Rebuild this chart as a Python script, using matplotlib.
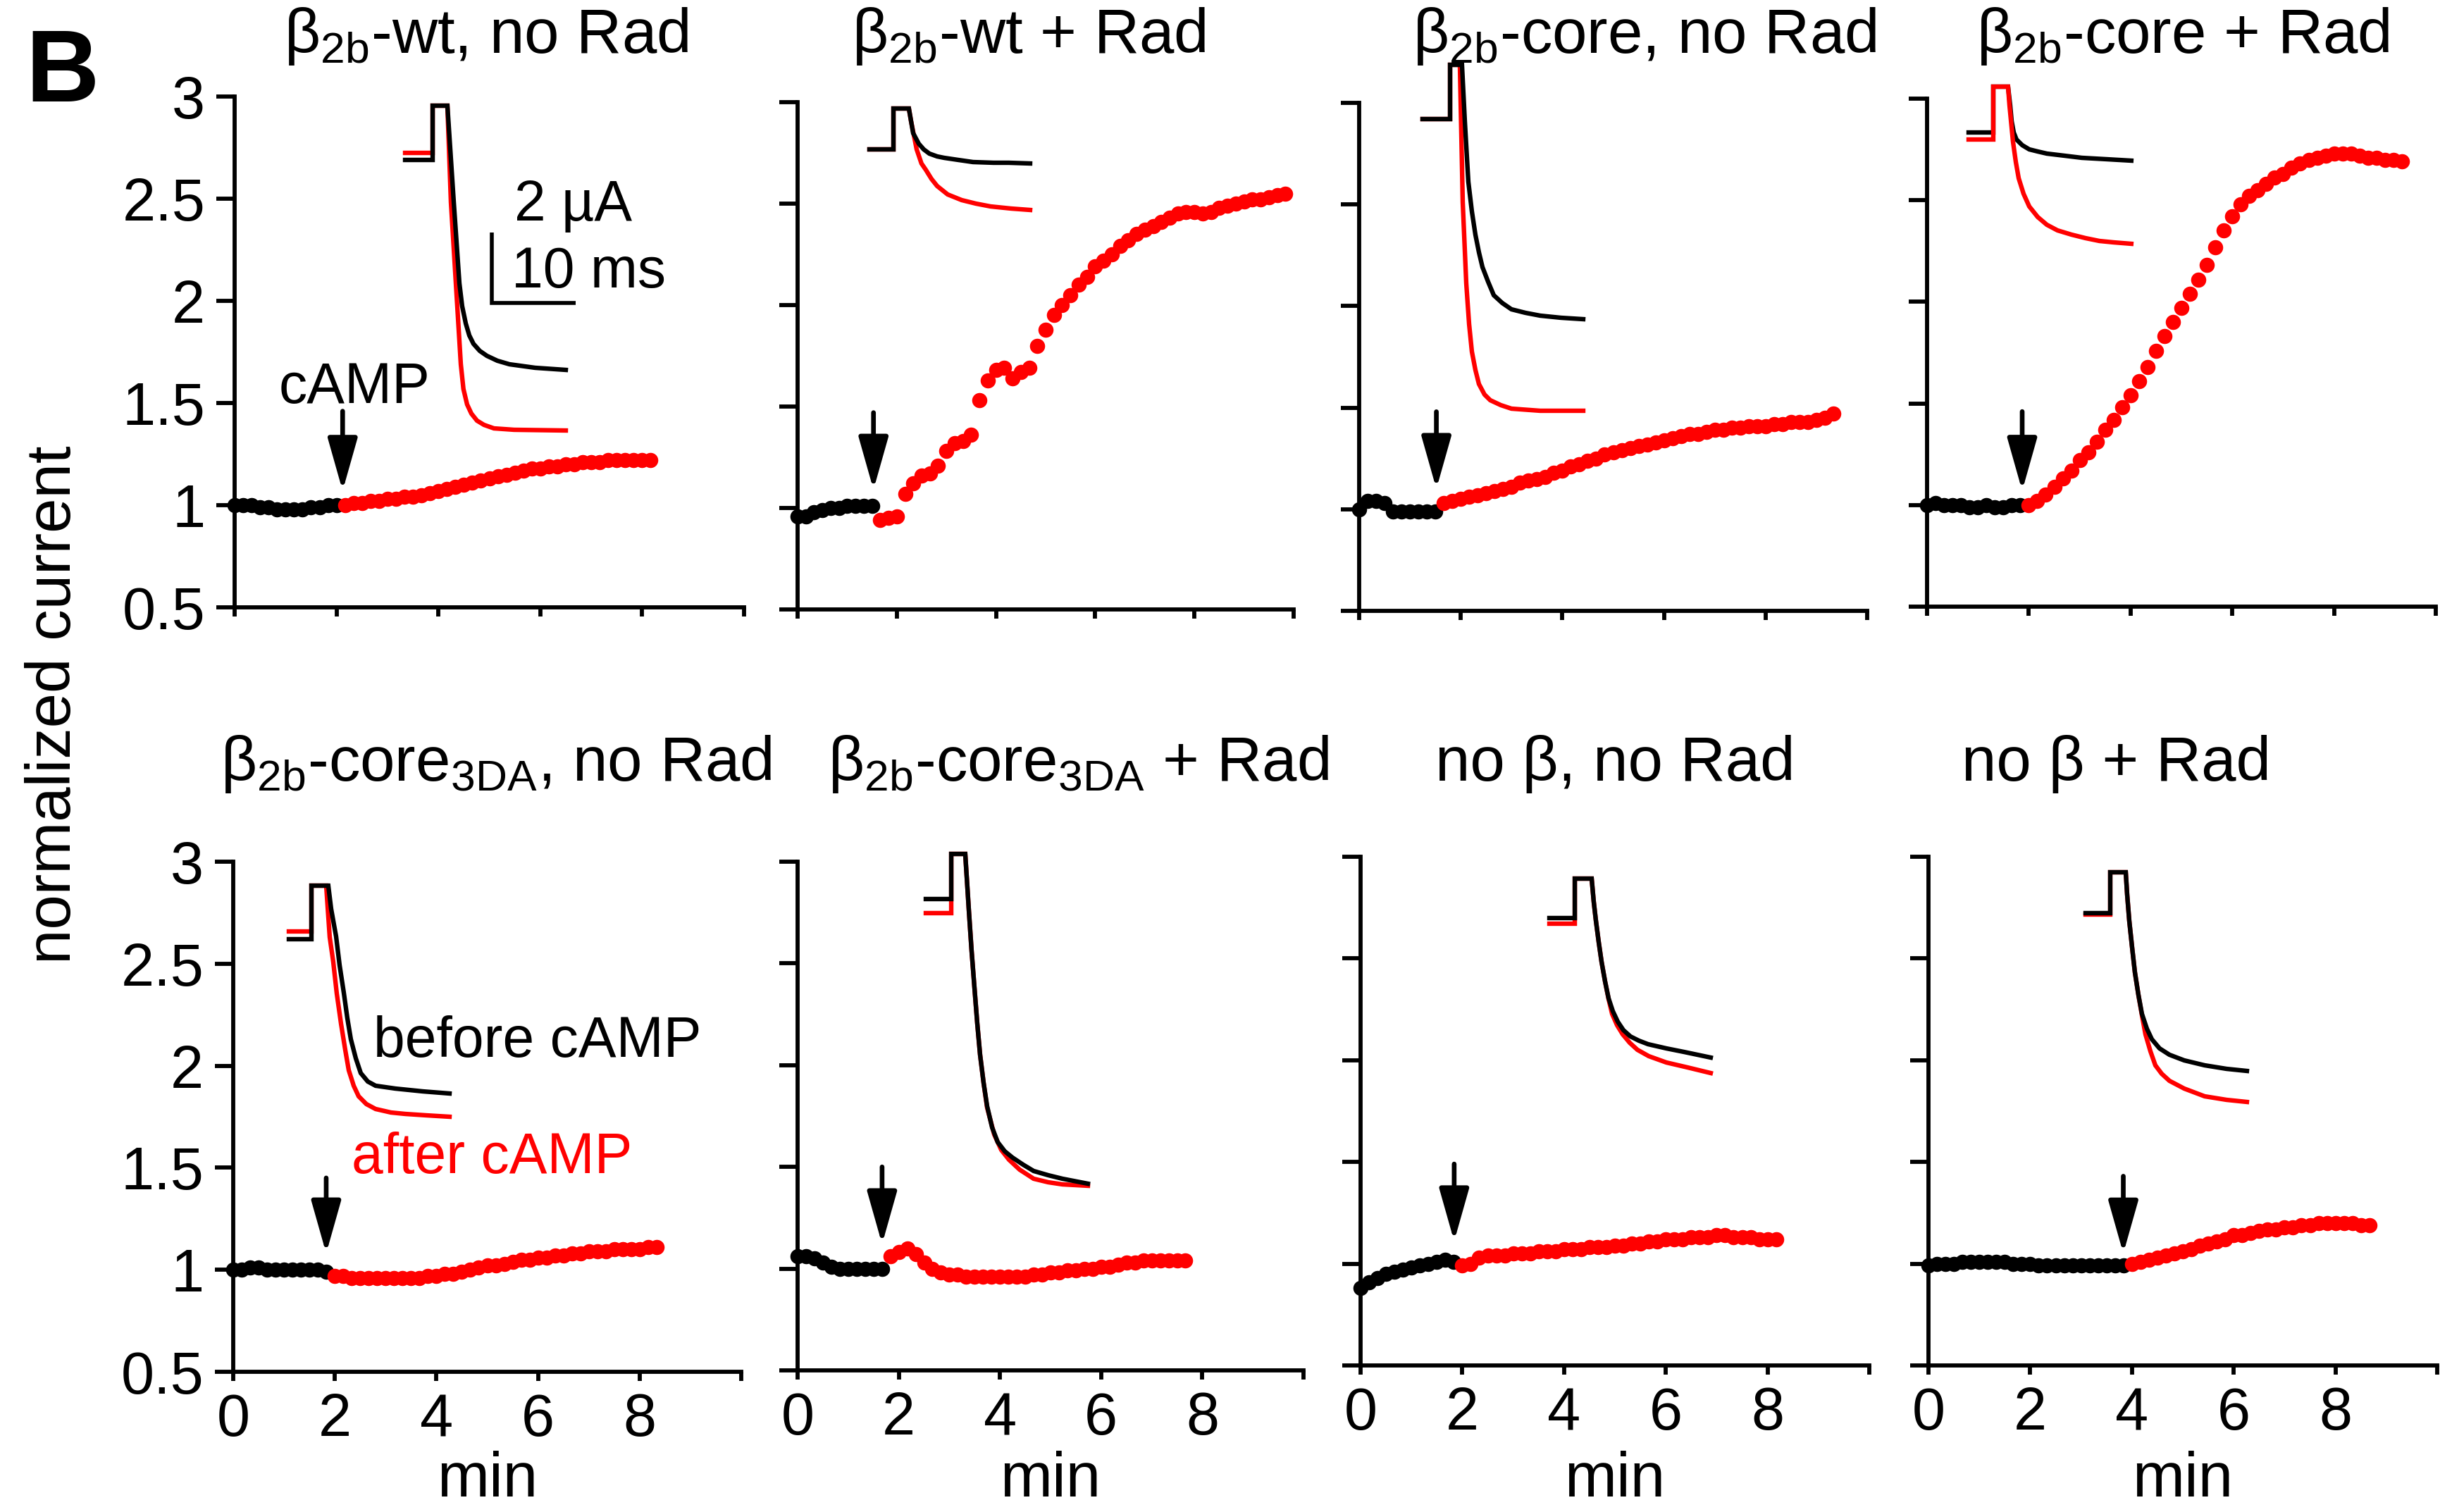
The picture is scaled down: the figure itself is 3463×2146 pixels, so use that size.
import matplotlib
matplotlib.use("Agg")
import matplotlib.pyplot as plt

plt.rcParams['font.family'] = ['Liberation Sans', 'DejaVu Sans']
plt.rcParams['mathtext.fontset'] = 'custom'
plt.rcParams['mathtext.rm'] = 'Liberation Sans'
plt.rcParams['mathtext.it'] = 'Liberation Sans:italic'
plt.rcParams['mathtext.bf'] = 'Liberation Sans:bold'
plt.rcParams['mathtext.sf'] = 'Liberation Sans'

W, H, DPI = 3463, 2146, 100
RED = '#ff0000'
FS_TITLE = 64
FS_TICK = 61
FS_LABEL = 64
FS_ANN = 58

# ---------------- data ----------------
DT_MIN = 1 / 6          # sampling interval (10 s)

titles = [r'β$_{\mathrm{2b}}$-wt, no Rad', r'β$_{\mathrm{2b}}$-wt + Rad',
          r'β$_{\mathrm{2b}}$-core, no Rad', r'β$_{\mathrm{2b}}$-core + Rad',
          r'β$_{\mathrm{2b}}$-core$_{\mathrm{3DA}}$, no Rad',
          r'β$_{\mathrm{2b}}$-core$_{\mathrm{3DA}}$ + Rad',
          'no β, no Rad', 'no β + Rad']

x_ticks = [0, 2, 4, 6, 8, 10]
x_ticklabels = ['0', '2', '4', '6', '8', '']
y_ticks = [0.5, 1, 1.5, 2, 2.5, 3]
y_ticklabels = ['0.5', '1', '1.5', '2', '2.5', '3']

# normalized current before (black) / after (red) cAMP, sampled every 10 s
p1_black = [1.00, 1.00, 1.00, 0.99, 0.99, 0.98, 0.98, 0.98, 0.98, 0.99, 0.99, 1.00, 1.00]
p1_red = [1.00, 1.01, 1.01, 1.02, 1.02, 1.03, 1.03, 1.04, 1.04, 1.05, 1.06, 1.07, 1.08,
          1.09, 1.10, 1.11, 1.12, 1.13, 1.14, 1.15, 1.16, 1.17, 1.18, 1.18, 1.19, 1.19,
          1.20, 1.20, 1.21, 1.21, 1.21, 1.22, 1.22, 1.22, 1.22, 1.22, 1.22]
p2_black = [0.96, 0.96, 0.98, 0.99, 1.00, 1.00, 1.01, 1.01, 1.01, 1.01]
p2_red = [0.94, 0.95, 0.96, 1.07, 1.12, 1.16, 1.17, 1.21, 1.28, 1.32, 1.33, 1.36, 1.53,
          1.63, 1.68, 1.69, 1.64, 1.67, 1.69, 1.80, 1.88, 1.95, 2.00, 2.05, 2.10, 2.14,
          2.19, 2.22, 2.25, 2.29, 2.32, 2.35, 2.37, 2.39, 2.41, 2.43, 2.45, 2.46, 2.46,
          2.45, 2.46, 2.48, 2.49, 2.50, 2.51, 2.52, 2.52, 2.53, 2.54, 2.55]
p3_black = [1.00, 1.04, 1.04, 1.03, 0.99, 0.99, 0.99, 0.99, 0.99, 0.99]
p3_red = [1.03, 1.04, 1.05, 1.06, 1.07, 1.08, 1.09, 1.10, 1.11, 1.13, 1.14, 1.15, 1.16,
          1.18, 1.19, 1.21, 1.22, 1.24, 1.25, 1.27, 1.28, 1.29, 1.30, 1.31, 1.32, 1.33,
          1.34, 1.35, 1.36, 1.37, 1.37, 1.38, 1.39, 1.39, 1.40, 1.40, 1.41, 1.41, 1.41,
          1.42, 1.42, 1.43, 1.43, 1.43, 1.44, 1.45, 1.47]
p4_black = [1.00, 1.01, 1.00, 1.00, 1.00, 0.99, 0.99, 1.00, 0.99, 0.99, 1.00, 1.00]
p4_red = [1.00, 1.02, 1.05, 1.09, 1.13, 1.17, 1.22, 1.26, 1.31, 1.37, 1.42, 1.48, 1.54,
          1.61, 1.68, 1.76, 1.83, 1.90, 1.97, 2.04, 2.11, 2.18, 2.27, 2.35, 2.42, 2.48,
          2.52, 2.55, 2.58, 2.61, 2.63, 2.66, 2.68, 2.70, 2.71, 2.72, 2.73, 2.73, 2.73,
          2.72, 2.71, 2.71, 2.70, 2.70, 2.69]
p5_black = [1.00, 1.00, 1.01, 1.01, 1.00, 1.00, 1.00, 1.00, 1.00, 1.00, 1.00, 0.99]
p5_red = [0.97, 0.97, 0.96, 0.96, 0.96, 0.96, 0.96, 0.96, 0.96, 0.96, 0.96, 0.97, 0.97,
          0.98, 0.98, 0.99, 1.00, 1.01, 1.02, 1.02, 1.03, 1.04, 1.05, 1.05, 1.06, 1.06,
          1.07, 1.07, 1.08, 1.08, 1.09, 1.09, 1.09, 1.10, 1.10, 1.10, 1.10, 1.11, 1.11]
p6_black = [1.06, 1.06, 1.05, 1.03, 1.01, 1.00, 1.00, 1.00, 1.00, 1.00, 1.00]
p6_red = [1.06, 1.08, 1.10, 1.07, 1.03, 1.00, 0.98, 0.97, 0.97, 0.96, 0.96, 0.96, 0.96,
          0.96, 0.96, 0.96, 0.96, 0.97, 0.97, 0.98, 0.98, 0.99, 0.99, 1.00, 1.00, 1.01,
          1.01, 1.02, 1.03, 1.03, 1.04, 1.04, 1.04, 1.04, 1.04, 1.04]
p7_black = [0.88, 0.91, 0.93, 0.95, 0.96, 0.97, 0.98, 0.99, 1.00, 1.01, 1.02, 1.01]
p7_red = [0.99, 1.00, 1.03, 1.04, 1.04, 1.04, 1.05, 1.05, 1.05, 1.06, 1.06, 1.06, 1.07,
          1.07, 1.07, 1.08, 1.08, 1.08, 1.09, 1.09, 1.10, 1.10, 1.11, 1.11, 1.12, 1.12,
          1.12, 1.13, 1.13, 1.13, 1.14, 1.14, 1.13, 1.13, 1.13, 1.12, 1.12, 1.12]
p8_black = [0.99, 1.00, 1.00, 1.00, 1.01, 1.01, 1.01, 1.01, 1.01, 1.01, 1.00, 1.00, 1.00,
            0.99, 0.99, 0.99, 0.99, 0.99, 0.99, 0.99, 0.99, 0.99, 0.99, 0.99]
p8_red = [1.00, 1.01, 1.02, 1.03, 1.04, 1.05, 1.06, 1.07, 1.09, 1.10, 1.11, 1.12, 1.14,
          1.14, 1.15, 1.16, 1.17, 1.17, 1.18, 1.18, 1.19, 1.19, 1.20, 1.20, 1.20, 1.20,
          1.20, 1.19, 1.19]

black_series = [p1_black, p2_black, p3_black, p4_black, p5_black, p6_black, p7_black, p8_black]
red_series = [p1_red, p2_red, p3_red, p4_red, p5_red, p6_red, p7_red, p8_red]

# cAMP application time (min) and arrow span (normalized current)
camp_t = [2.12, 1.53, 1.52, 1.87, 1.83, 1.67, 1.84, 3.83]
arrow_tip = [1.07, 1.09, 1.10, 1.07, 1.08, 1.12, 1.11, 1.05]
arrow_tail = [1.46, 1.47, 1.48, 1.46, 1.45, 1.50, 1.49, 1.43]

# example current traces (time in ms, current in µA relative to holding)
i1_bt = [0, 3.28, 3.28, 5.04, 5.80, 6.47, 6.80, 7.23, 7.65, 8.15, 8.90, 9.75, 11.0, 12.44, 15.5, 19.16]
i1_bi = [0, 0, 1.54, 1.54, -1.20, -3.50, -4.15, -4.64, -4.98, -5.22, -5.42, -5.56, -5.70, -5.80, -5.90, -5.96]
i1_rt = [0, 3.28, 3.28, 5.04, 5.46, 6.05, 6.64, 6.95, 7.39, 7.90, 8.57, 9.40, 10.59, 13.0, 19.16]
i1_ri = [0.2, 0.2, 1.54, 1.54, -1.20, -3.50, -5.80, -6.50, -6.94, -7.20, -7.40, -7.52, -7.62, -7.66, -7.68]

i2_bt = [0, 2.86, 2.86, 4.70, 5.21, 5.88, 6.47, 7.14, 8.07, 8.90, 10.6, 12.35, 14.8, 16.6, 19.16]
i2_bi = [0, 0, 1.16, 1.16, 0.46, 0.16, 0.00, -0.12, -0.20, -0.24, -0.30, -0.36, -0.38, -0.38, -0.40]
i2_rt = [0, 2.86, 2.86, 4.70, 4.96, 5.63, 6.20, 6.72, 7.40, 8.07, 9.33, 11.0, 12.7, 14.45, 16.9, 19.16]
i2_ri = [0, 0, 1.16, 1.16, 0.80, 0.00, -0.40, -0.58, -0.84, -1.04, -1.28, -1.44, -1.54, -1.62, -1.68, -1.72]

i3_bt = [0, 3.28, 3.28, 4.70, 5.04, 5.46, 5.88, 6.30, 6.72, 7.14, 7.82, 8.49, 9.50, 10.6, 12.27, 14.03, 16.5, 19.16]
i3_bi = [0, 0, 1.54, 1.54, -0.06, -1.78, -2.62, -3.28, -3.78, -4.20, -4.62, -5.00, -5.22, -5.40, -5.50, -5.58, -5.64, -5.68]
i3_rt = [0, 3.28, 3.28, 4.45, 4.79, 5.21, 5.55, 5.88, 6.30, 6.72, 7.39, 8.07, 9.33, 10.6, 14.03, 19.16]
i3_ri = [0, 0, 1.54, 1.54, -2.36, -4.66, -5.82, -6.60, -7.12, -7.52, -7.82, -7.98, -8.12, -8.22, -8.28, -8.28]

i4_bt = [0, 2.94, 2.94, 4.70, 4.96, 5.13, 5.38, 5.71, 6.39, 7.23, 8.24, 9.33, 11.43, 13.5, 16.5, 19.4]
i4_bi = [0, 0, 1.30, 1.30, 0.76, 0.32, 0.00, -0.20, -0.36, -0.48, -0.54, -0.60, -0.66, -0.72, -0.76, -0.80]
i4_rt = [0, 2.94, 2.94, 4.70, 4.87, 5.29, 5.63, 5.97, 6.55, 7.23, 8.24, 9.33, 10.6, 12.27, 13.95, 15.6, 17.3, 19.4]
i4_ri = [-0.2, -0.2, 1.30, 1.30, 0.78, -0.26, -0.84, -1.30, -1.74, -2.10, -2.40, -2.62, -2.78, -2.90, -3.00, -3.08, -3.12, -3.16]

i5_bt = [0, 2.69, 2.69, 4.70, 5.04, 5.63, 6.05, 6.55, 6.97, 7.39, 7.98, 8.57, 9.41, 10.34, 12.69, 15.97, 19.16]
i5_bi = [0, 0, 1.52, 1.52, 0.86, 0.08, -0.74, -1.52, -2.24, -2.84, -3.38, -3.80, -4.04, -4.16, -4.24, -4.32, -4.38]
i5_rt = [0, 2.69, 2.69, 4.45, 4.87, 5.29, 5.71, 6.22, 6.72, 7.14, 7.73, 8.32, 9.24, 10.34, 12.18, 13.87, 16.4, 19.16]
i5_ri = [0.22, 0.22, 1.52, 1.52, 0.06, -0.64, -1.54, -2.40, -3.14, -3.72, -4.16, -4.46, -4.68, -4.82, -4.92, -4.96, -5.00, -5.04]

i6_bt = [0, 3.03, 3.03, 4.70, 4.96, 5.13, 5.46, 5.80, 6.13, 6.47, 6.89, 7.31, 7.90, 8.57, 9.41, 10.34, 11.6, 12.86, 14.6, 16.3, 19.33]
i6_bi = [0, 0, 1.28, 1.28, 0.32, -0.32, -1.48, -2.52, -3.52, -4.42, -5.22, -5.88, -6.48, -6.90, -7.16, -7.34, -7.54, -7.72, -7.84, -7.94, -8.08]
i6_rt = [0, 3.03, 3.03, 4.70, 4.96, 5.13, 5.46, 5.80, 6.13, 6.47, 6.89, 7.31, 8.15, 8.99, 9.92, 11.18, 12.86, 14.6, 16.3, 19.33]
i6_ri = [-0.4, -0.4, 1.28, 1.28, 0.32, -0.32, -1.48, -2.52, -3.52, -4.42, -5.22, -5.92, -6.68, -7.12, -7.40, -7.68, -7.94, -8.04, -8.10, -8.14]

i7_bt = [0, 3.03, 3.03, 5.04, 5.29, 5.55, 5.88, 6.22, 6.64, 7.06, 7.56, 8.15, 8.82, 9.66, 10.67, 11.76, 13.95, 16.05, 19.24]
i7_bi = [0, 0, 1.12, 1.12, 0.46, -0.08, -0.68, -1.24, -1.80, -2.28, -2.64, -2.94, -3.18, -3.36, -3.48, -3.58, -3.70, -3.80, -3.96]
i7_rt = [0, 3.03, 3.03, 5.04, 5.29, 5.55, 5.88, 6.22, 6.64, 7.06, 7.48, 8.07, 8.74, 9.58, 10.5, 11.85, 13.95, 16.47, 19.24]
i7_ri = [-0.16, -0.16, 1.12, 1.12, 0.46, -0.08, -0.68, -1.24, -1.80, -2.30, -2.72, -3.04, -3.30, -3.54, -3.74, -3.92, -4.10, -4.24, -4.40]

i8_bt = [0, 2.94, 2.94, 4.79, 4.96, 5.21, 5.55, 5.88, 6.30, 6.72, 7.31, 7.90, 8.82, 10.0, 11.76, 14.2, 16.8, 19.24]
i8_bi = [0, 0, 1.16, 1.16, 0.52, -0.22, -0.98, -1.68, -2.32, -2.86, -3.28, -3.58, -3.84, -4.02, -4.18, -4.32, -4.42, -4.48]
i8_rt = [0, 2.94, 2.94, 4.79, 4.96, 5.21, 5.55, 5.88, 6.30, 6.72, 7.14, 7.73, 8.32, 9.08, 10.0, 11.76, 14.2, 16.8, 19.24]
i8_ri = [-0.04, -0.04, 1.16, 1.16, 0.52, -0.22, -0.98, -1.68, -2.32, -2.90, -3.44, -3.92, -4.32, -4.56, -4.76, -4.98, -5.20, -5.30, -5.36]

inset_black = [(i1_bt, i1_bi), (i2_bt, i2_bi), (i3_bt, i3_bi), (i4_bt, i4_bi),
               (i5_bt, i5_bi), (i6_bt, i6_bi), (i7_bt, i7_bi), (i8_bt, i8_bi)]
inset_red = [(i1_rt, i1_ri), (i2_rt, i2_ri), (i3_rt, i3_ri), (i4_rt, i4_ri),
             (i5_rt, i5_ri), (i6_rt, i6_ri), (i7_rt, i7_ri), (i8_rt, i8_ri)]
red_on_top = [False, False, False, True, False, False, False, False]

scalebar_ms = 10
scalebar_uA = 2

# ---------------- layout (pixels) ----------------
AX_PX = [(333, 1056, 137, 862), (1132, 1836, 145, 865), (1929, 2650, 146, 867),
         (2735, 3457, 140, 861), (331, 1052, 1223, 1947), (1132, 1850, 1223, 1945),
         (1931, 2653, 1216, 1938), (2737, 3459, 1216, 1938)]
TITLE_X = [690, 1460, 2334, 3098, 704, 1530, 2292, 3003]
TITLE_BASE = [75, 75, 75, 75, 1108, 1108, 1108, 1108]
INSET_ORIGIN = [(575, 227), (1234, 212), (2019, 169), (2794, 188),
                (410, 1333), (1314, 1276), (2199, 1303), (2960, 1296)]
PX_PER_MS = 11.9
PX_PER_UA = 50.0

fig = plt.figure(figsize=(W / DPI, H / DPI), dpi=DPI)


def fx(px):
    return px / W


def fy(py):
    return 1 - py / H


LW = 4.2
MS = 15.5
TRACE_LW = 4.6
for k in range(8):
    x0, x1, yt, yb = AX_PX[k]
    ax = fig.add_axes([fx(x0), fy(yb), (x1 - x0) / W, (yb - yt) / H])
    ax.set_xlim(0, 10)
    ax.set_ylim(0.5, 3)
    for s in ('top', 'right'):
        ax.spines[s].set_visible(False)
    for s in ('left', 'bottom'):
        ax.spines[s].set_linewidth(LW)
        ax.spines[s].set_capstyle('projecting')
    ax.set_xticks(x_ticks)
    ax.set_yticks(y_ticks)
    ax.tick_params(axis='y', direction='out', length=19, width=LW, pad=11, labelsize=FS_TICK)
    ax.tick_params(axis='x', direction='out', length=9, width=LW, pad=12, labelsize=FS_TICK)
    if k >= 4:
        ax.set_xticklabels(x_ticklabels)
    else:
        ax.set_xticklabels([])
    if k in (0, 4):
        ax.set_yticklabels(y_ticklabels)
    else:
        ax.set_yticklabels([])

    bvals = black_series[k]
    rvals = red_series[k]
    tb = [i * DT_MIN for i in range(len(bvals))]
    tr = [(len(bvals) + i) * DT_MIN for i in range(len(rvals))]
    ax.plot(tb, bvals, 'o', ms=MS, color='black', mec='none', clip_on=False, zorder=3)
    ax.plot(tr, rvals, 'o', ms=MS, color=RED, mec='none', clip_on=False, zorder=4)

    ax.annotate('', xy=(camp_t[k], arrow_tip[k]), xytext=(camp_t[k], arrow_tail[k]),
                arrowprops=dict(arrowstyle='-|>,head_length=4.6,head_width=1.3',
                                mutation_scale=10, lw=4.8, color='black',
                                shrinkA=0, shrinkB=0), zorder=5)

    fig.text(fx(TITLE_X[k]), fy(TITLE_BASE[k]), titles[k], ha='center', va='baseline',
             fontsize=FS_TITLE)

    if k == 0:
        ax.text(2.35, 1.50, 'cAMP', ha='center', va='baseline', fontsize=FS_ANN)
    if k == 4:
        ax.text(2.76, 2.045, 'before cAMP', ha='left', va='baseline', fontsize=FS_ANN,
                color='black')
        ax.text(2.33, 1.475, 'after cAMP', ha='left', va='baseline', fontsize=FS_ANN,
                color=RED)
    if k >= 4:
        fig.text(fx((x0 + x1) / 2), fy(2143), 'min', ha='center', va='bottom',
                 fontsize=FS_LABEL)

    # inset current traces
    ox, oy = INSET_ORIGIN[k]
    lpx, rpx, tpx, bpx = ox - 30, ox + 300, oy - 140, oy + 470
    iax = fig.add_axes([fx(lpx), fy(bpx), (rpx - lpx) / W, (bpx - tpx) / H])
    iax.set_xlim(-30 / PX_PER_MS, 300 / PX_PER_MS)
    iax.set_ylim(-470 / PX_PER_UA, 140 / PX_PER_UA)
    iax.axis('off')
    iax.patch.set_visible(False)
    bt, bi = inset_black[k]
    rt, ri = inset_red[k]
    zb, zr = (2, 3) if red_on_top[k] else (3, 2)
    iax.plot(bt, bi, color='black', lw=TRACE_LW, zorder=zb, solid_joinstyle='miter')
    iax.plot(rt, ri, color=RED, lw=TRACE_LW, zorder=zr, solid_joinstyle='miter')
    if k == 0:
        sx, sy = 10.34, -4.06
        iax.plot([sx, sx, sx + scalebar_ms], [sy + scalebar_uA, sy, sy], color='black',
                 lw=4.0, solid_joinstyle='miter', solid_capstyle='butt')
        iax.text(13.0, -1.72, '%d µA' % scalebar_uA, ha='left', va='baseline', fontsize=FS_ANN)
        iax.text(12.7, -3.62, '%d ms' % scalebar_ms, ha='left', va='baseline', fontsize=FS_ANN)

fig.text(fx(77), fy(1000), 'normalized current', rotation=90, ha='center', va='center',
         fontsize=FS_LABEL)
fig.text(fx(89), fy(106), 'B', ha='center', va='center', fontsize=104, fontweight='bold')

fig.savefig('out.png', dpi=DPI)
